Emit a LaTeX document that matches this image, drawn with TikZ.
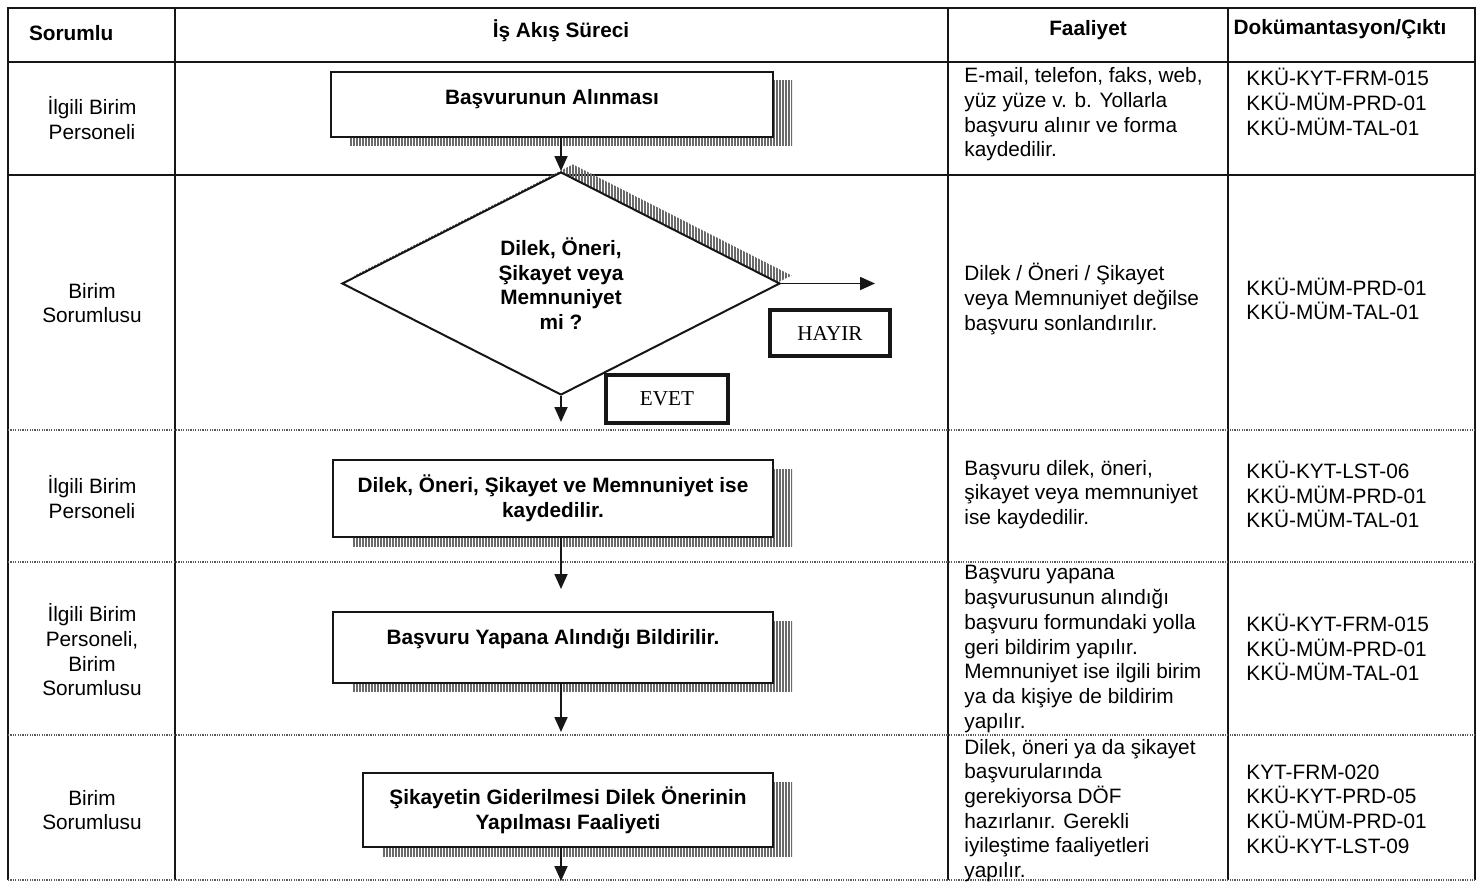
\documentclass[tikz,border=0pt]{standalone}
\usepackage{fontspec}
\setmainfont{Liberation Sans}
\newfontfamily\answerfont{Liberation Serif}
\usetikzlibrary{arrows.meta,shapes.geometric,shadows,patterns.meta}
\definecolor{tableink}{HTML}{161616}
\definecolor{rulegray}{HTML}{5A5A5A}
\definecolor{shadowgray}{HTML}{6A6A6A}

\begin{document}
\begin{tikzpicture}[x=.5pt,y=-.5pt,
    font=\fontsize{10.4}{12.35}\selectfont,
    cellrule/.style={tableink,line width=.8pt},
    rowsep/.style={rulegray,line width=.6pt,dash pattern=on .6pt off .6pt},
    rolecell/.style={align=center,inner sep=0pt},
    taskcell/.style={align=left,anchor=west,inner sep=0pt},
    hatchshadow/.style={drop shadow={shadow xshift=9.5pt,shadow yshift=-4.5pt,opacity=1,
      pattern={Lines[angle=90,distance=1.5pt,line width=1pt]},pattern color=shadowgray}},
    stepbox/.style={draw=tableink,line width=1pt,fill=white,align=center,inner sep=0pt,
      font=\fontsize{10.4}{12.35}\selectfont\bfseries,hatchshadow},
    decision/.style={shape=diamond,draw=tableink,line width=1pt,fill=white,align=center,
      inner sep=0pt,font=\fontsize{10.4}{12.35}\selectfont\bfseries,
      minimum width=219pt,minimum height=111.5pt,
      drop shadow={shadow xshift=6pt,shadow yshift=4pt,opacity=1,
      pattern={Lines[angle=90,distance=1.5pt,line width=1pt]},pattern color=shadowgray}},
    answerbox/.style={draw=tableink,line width=2pt,fill=white,inner sep=0pt,
      font=\answerfont\fontsize{10.6}{12}\selectfont},
    flow/.style={tableink,line width=.9pt,-{Triangle[width=6.5pt,length=7.5pt]}}]
  \useasboundingbox (0,0) rectangle (1481,883);

  \draw[cellrule] (8,880) -- (8,8) -- (1475,8) -- (1475,880);
  \foreach \x in {175,948,1228}
    \draw[cellrule] (\x,8) -- (\x,880);
  \foreach \y in {62,175}
    \draw[cellrule] (8,\y) -- (1475,\y);
  \foreach \y in {430,562,735,880}
    \draw[rowsep] (8,\y) -- (1475,\y);

  \node[anchor=west,font=\fontsize{10.4}{12.35}\selectfont\bfseries] (hRole) at (22,33) {Sorumlu};
  \node[font=\fontsize{10.4}{12.35}\selectfont\bfseries] (hFlow) at (561,31) {İş Akış Süreci};
  \node[font=\fontsize{10.4}{12.35}\selectfont\bfseries] (hTask) at (1088,30) {Faaliyet};
  \node[font=\fontsize{10.4}{12.35}\selectfont\bfseries] (hDocs) at (1340,29) {Dokümantasyon/Çıktı};

  \node[rolecell] (role1) at (92,118) {İlgili Birim\\Personeli};
  \node[rolecell] (role2) at (92,303) {Birim\\Sorumlusu};
  \node[rolecell] (role3) at (92,497) {İlgili Birim\\Personeli};
  \node[rolecell] (role4) at (92,650) {İlgili Birim\\Personeli,\\Birim\\Sorumlusu};
  \node[rolecell] (role5) at (92,810) {Birim\\Sorumlusu};

  \node[taskcell] (task1) at (964,114.5) {E-mail, telefon, faks, web,\\yüz yüze v. b. Yollarla\\başvuru alınır ve forma\\kaydedilir.};
  \node[taskcell] (task2) at (964,299) {Dilek / Öneri / Şikayet\\veya Memnuniyet değilse\\başvuru sonlandırılır.};
  \node[taskcell] (task3) at (964,494.5) {Başvuru dilek, öneri,\\şikayet veya memnuniyet\\ise kaydedilir.};
  \node[taskcell] (task4) at (964,649) {Başvuru yapana\\başvurusunun alındığı\\başvuru formundaki yolla\\geri bildirim yapılır.\\Memnuniyet ise ilgili birim\\ya da kişiye de bildirim\\yapılır.};
  \node[taskcell] (task5) at (964,810.5) {Dilek, öneri ya da şikayet\\başvurularında\\gerekiyorsa DÖF\\hazırlanır. Gerekli\\iyileştime faaliyetleri\\yapılır.};

  \node[taskcell] (docs1) at (1246,102) {KKÜ-KYT-FRM-015\\KKÜ-MÜM-PRD-01\\KKÜ-MÜM-TAL-01};
  \node[taskcell] (docs2) at (1246,299) {KKÜ-MÜM-PRD-01\\KKÜ-MÜM-TAL-01};
  \node[taskcell] (docs3) at (1246,494.5) {KKÜ-KYT-LST-06\\KKÜ-MÜM-PRD-01\\KKÜ-MÜM-TAL-01};
  \node[taskcell] (docs4) at (1246,647.5) {KKÜ-KYT-FRM-015\\KKÜ-MÜM-PRD-01\\KKÜ-MÜM-TAL-01};
  \node[taskcell] (docs5) at (1246,809) {KYT-FRM-020\\KKÜ-KYT-PRD-05\\KKÜ-MÜM-PRD-01\\KKÜ-KYT-LST-09};

  \node[stepbox,minimum width=221pt,minimum height=32.5pt,text height=5pt,text depth=5pt]
    (recv) at (552,104.5) {Başvurunun Alınması};
  \node[decision] (check) at (561,283.5) {Dilek, Öneri,\\Şikayet veya\\Memnuniyet\\mi ?};
  \node[answerbox,minimum width=60pt,minimum height=23pt] (no) at (830,333) {HAYIR};
  \node[answerbox,minimum width=61pt,minimum height=24pt] (yes) at (667,399) {EVET};
  \node[stepbox,minimum width=220pt,minimum height=38.5pt]
    (log) at (553,498.5) {Dilek, Öneri, Şikayet ve Memnuniyet ise\\kaydedilir.};
  \node[stepbox,minimum width=220pt,minimum height=35.5pt,text height=4pt,text depth=7.5pt]
    (notify) at (553,647.5) {Başvuru Yapana Alındığı Bildirilir.};
  \node[stepbox,minimum width=205pt,minimum height=37pt]
    (resolve) at (568,810) {Şikayetin Giderilmesi Dilek Önerinin\\Yapılması Faaliyeti};

  \coordinate (exitno) at (875,283.5);
  \coordinate (exitend) at (561,881);

  \draw[flow] (recv.south -| check.north) -- (check.north);
  \draw[flow] (check.east) -- (exitno);
  \draw[flow,shorten >=18.5pt] (check.south) -- (log.north -| check.south);
  \draw[flow,shorten >=11pt] (log.south -| check.south) -- (notify.north -| check.south);
  \draw[flow,shorten >=20pt] (notify.south -| check.south) -- (resolve.north -| check.south);
  \draw[flow] (resolve.south -| check.south) -- (exitend);
\end{tikzpicture}
\end{document}
